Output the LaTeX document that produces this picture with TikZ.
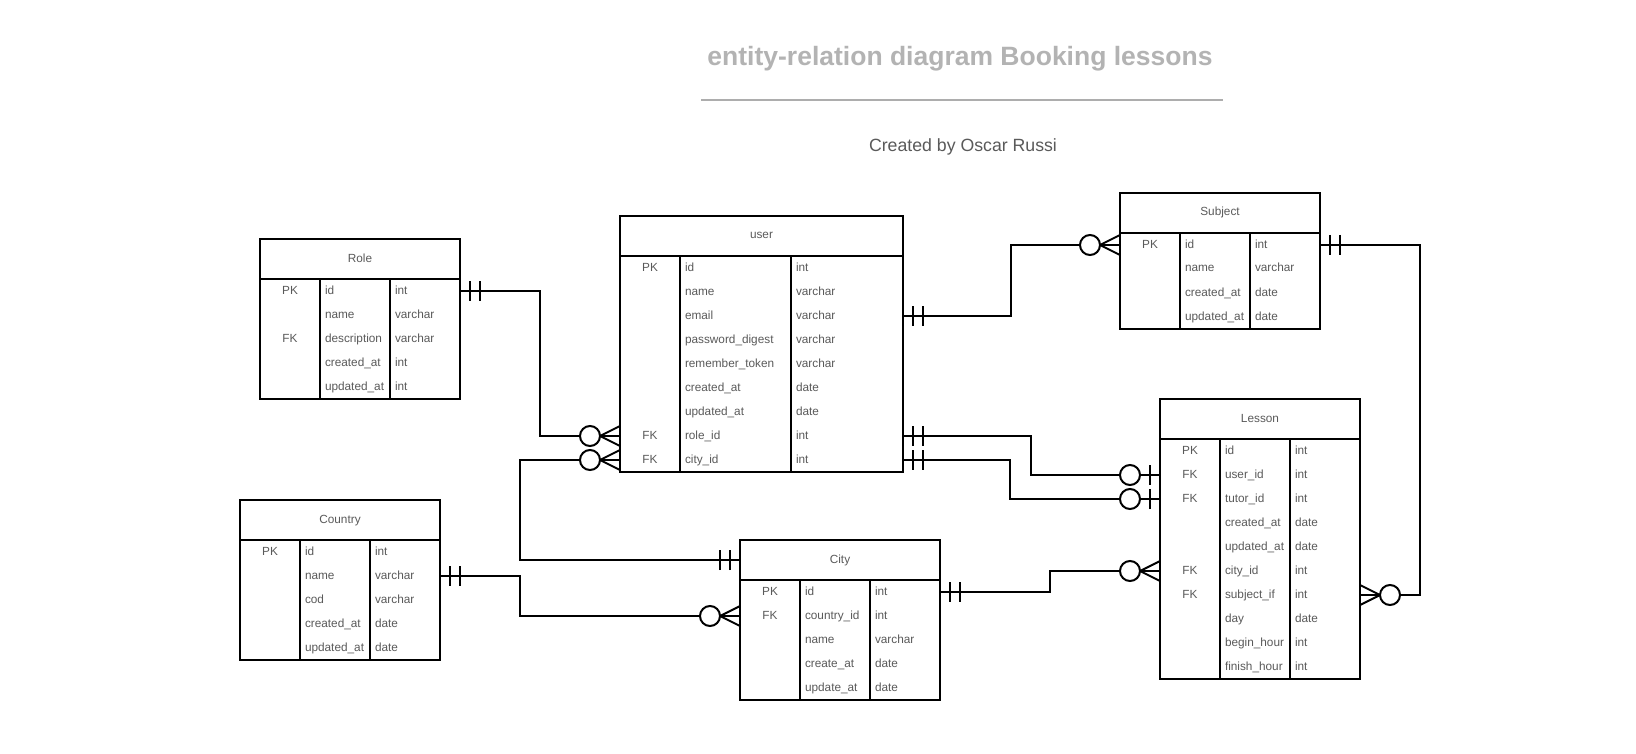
\documentclass[tikz,border=0pt]{standalone}
\usepackage{fontspec}
\setmainfont{Liberation Sans}
\definecolor{txt}{HTML}{5A5A5A}
\definecolor{ttl}{HTML}{B3B3B3}
\definecolor{rule}{HTML}{ADADAD}
\tikzset{
  box/.style={draw, line width=2pt, inner sep=0pt, outer sep=0pt, anchor=north west},
  cell/.style={inner sep=0pt, outer sep=0pt, text height=8.5pt, text depth=2.5pt,
               font=\fontsize{11.8}{14}\selectfont, text=txt},
  conn/.style={line width=2pt, black},
  pics/mone/.style={code={\draw[conn] (10,-10) -- (10,10) (20,-10) -- (20,10);}},
  pics/zmany/.style={code={\draw[conn] (20,0) -- (0,-10) (20,0) -- (0,10);
                           \draw[conn, fill=white] (30,0) circle (10pt);}},
  pics/zone/.style={code={\draw[conn] (10,-10) -- (10,10);
                          \draw[conn, fill=white] (30,0) circle (10pt);}},
}
% #1 name, #2 left, #3 top, #4 col1 x, #5 col2 x, #6 right, #7 title, #8 rows, #9 row list
\newcommand\ertable[9]{%
  \node[box, cell, minimum width={(#6-#2)*1pt}, minimum height=40pt] (#1-head) at (#2,#3) {#7};
  \node[box, minimum width={(#6-#2)*1pt}, minimum height={#8*24pt}] (#1) at (#2,{#3+40}) {};
  \draw[line width=2pt] (#4,{#3+40}) -- (#4,{#3+40+#8*24});
  \draw[line width=2pt] (#5,{#3+40}) -- (#5,{#3+40+#8*24});
  \foreach \k/\n/\t [count=\i] in {#9} {
    \node[cell] (#1-k\i) at ({(#2+#4)/2},{#3+28+24*\i}) {\k};
    \node[cell, anchor=west] (#1-\i) at ({#4+5},{#3+28+24*\i}) {\n};
    \node[cell, anchor=west] (#1-t\i) at ({#5+5},{#3+28+24*\i}) {\t};
  }%
}
\begin{document}
\begin{tikzpicture}[x=1pt, y=-1pt]
\useasboundingbox (0,0) rectangle (1636,754);
\fill[white] (0,0) rectangle (1636,754);

% title
\node[font={\fontsize{26.5}{30}\selectfont\bfseries}, text=ttl, anchor=base, inner sep=0pt] (title) at (960,65.5) {entity-relation diagram Booking lessons};
\draw[rule, line width=2pt] (701,100) -- (1223,100);
\node[font={\fontsize{17.7}{20}\selectfont}, text=txt, anchor=base, inner sep=0pt] (subtitle) at (963,151.7) {Created by Oscar Russi};

% tables
\ertable{role}{260}{239}{320}{390}{460}{Role}{5}{PK/id/int, /name/varchar, FK/description/varchar, /created\_at/int, /updated\_at/int}
\ertable{user}{620}{216}{680}{791}{903}{user}{9}{PK/id/int, /name/varchar, /email/varchar, /password\_digest/varchar, /remember\_token/varchar, /created\_at/date, /updated\_at/date, FK/role\_id/int, FK/city\_id/int}
\ertable{subject}{1120}{193}{1180}{1250}{1320}{Subject}{4}{PK/id/int, /name/varchar, /created\_at/date, /updated\_at/date}
\ertable{lesson}{1160}{399}{1220}{1290}{1360}{Lesson}{10}{PK/id/int, FK/user\_id/int, FK/tutor\_id/int, /created\_at/date, /updated\_at/date, FK/city\_id/int, FK/subject\_if/int, /day/date, /begin\_hour/int, /finish\_hour/int}
\ertable{country}{240}{500}{300}{370}{440}{Country}{5}{PK/id/int, /name/varchar, /cod/varchar, /created\_at/date, /updated\_at/date}
\ertable{city}{740}{540}{800}{870}{940}{City}{5}{PK/id/int, FK/country\_id/int, /name/varchar, /create\_at/date, /update\_at/date}

% connectors
\draw[conn] (role.east |- role-1) -- ++(80,0) |- (user.west |- user-8);
\draw[conn] (user.west |- user-9) -- ++(-100,0) |- (city-head.west);
\draw[conn] (country.east |- country-2) -- ++(80,0) |- (city.west |- city-2);
\draw[conn] (user.east |- user-3) -- ++(108,0) |- (subject.west |- subject-1);
\draw[conn] (subject.east |- subject-1) -- ++(100,0) |- (lesson.east |- lesson-7);
\draw[conn] (user.east |- user-8) -- ++(128,0) |- (lesson.west |- lesson-2);
\draw[conn] (user.east |- user-9) -- ++(107,0) |- (lesson.west |- lesson-3);
\draw[conn] (city.east |- city-1) -- ++(110,0) |- (lesson.west |- lesson-6);

% ends
\pic at (role.east |- role-1) {mone};
\pic[rotate=180] at (user.west |- user-8) {zmany};
\pic[rotate=180] at (user.west |- user-9) {zmany};
\pic[rotate=180] at (city-head.west) {mone};
\pic at (country.east |- country-2) {mone};
\pic[rotate=180] at (city.west |- city-2) {zmany};
\pic at (user.east |- user-3) {mone};
\pic[rotate=180] at (subject.west |- subject-1) {zmany};
\pic at (subject.east |- subject-1) {mone};
\pic at (lesson.east |- lesson-7) {zmany};
\pic at (user.east |- user-8) {mone};
\pic[rotate=180] at (lesson.west |- lesson-2) {zone};
\pic at (user.east |- user-9) {mone};
\pic[rotate=180] at (lesson.west |- lesson-3) {zone};
\pic at (city.east |- city-1) {mone};
\pic[rotate=180] at (lesson.west |- lesson-6) {zmany};
\end{tikzpicture}
\end{document}
